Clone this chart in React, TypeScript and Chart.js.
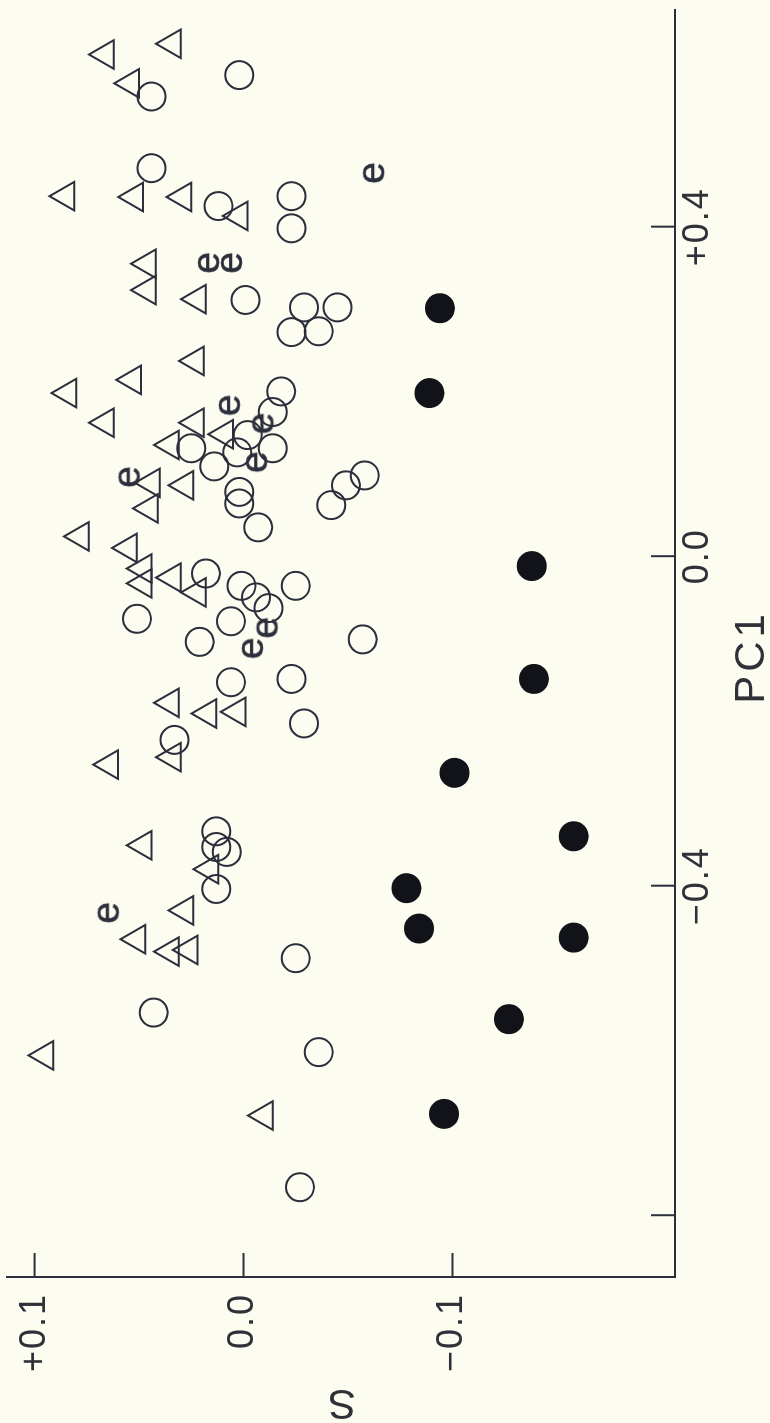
import React, { useEffect, useRef } from "react";
import { Chart, registerables } from "chart.js";

Chart.register(...registerables);

// ---- axis ticks / titles ----
const X_TICKS = [-0.8, -0.4, 0, 0.4];
const X_TICK_LABELS = ["", "\u22120.4", "0.0", "+0.4"];
const Y_TICKS = [-0.1, 0, 0.1];
const Y_TICK_LABELS = ["\u22120.1", "0.0", "+0.1"];
const X_TITLE = "PC1";
const Y_TITLE = "S";
const X_RANGE = [-0.875, 0.663];
const Y_RANGE = [-0.2065, 0.1132];

// ---- triangles (PC1, S) ----
const TRI_PC1 = [0.609, 0.622, 0.574, 0.437, 0.436, 0.436, 0.413, 0.355, 0.323, 0.312, 0.237, 0.214, 0.198, 0.162, 0.162, 0.148, 0.135, 0.089, 0.086, 0.058, 0.024, 0.010, -0.015, -0.033, -0.026, -0.044, -0.178, -0.191, -0.189, -0.244, -0.253, -0.351, -0.380, -0.430, -0.465, -0.480, -0.478, -0.606, -0.679];
const TRI_S = [0.066, 0.034, 0.054, 0.085, 0.052, 0.029, 0.002, 0.046, 0.046, 0.022, 0.023, 0.053, 0.084, 0.066, 0.023, 0.009, 0.035, 0.044, 0.028, 0.045, 0.078, 0.055, 0.048, 0.048, 0.034, 0.022, 0.035, 0.017, 0.003, 0.034, 0.064, 0.048, 0.016, 0.028, 0.051, 0.035, 0.026, 0.095, -0.010];

// ---- open circles ----
const OPEN_PC1 = [0.584, 0.558, 0.471, 0.425, 0.437, 0.398, 0.311, 0.302, 0.302, 0.272, 0.273, 0.200, 0.175, 0.147, 0.131, 0.109, 0.126, 0.131, 0.078, 0.064, 0.035, 0.062, 0.086, 0.098, -0.021, -0.036, -0.050, -0.063, -0.036, -0.076, -0.079, -0.104, -0.101, -0.153, -0.149, -0.203, -0.223, -0.334, -0.353, -0.359, -0.404, -0.488, -0.554, -0.602, -0.766];
const OPEN_S = [0.002, 0.044, 0.044, 0.012, -0.023, -0.023, -0.001, -0.029, -0.045, -0.023, -0.036, -0.018, -0.014, -0.002, 0.025, 0.014, 0.003, -0.014, 0.002, 0.002, -0.007, -0.042, -0.049, -0.058, 0.018, 0.001, -0.006, -0.012, -0.025, 0.051, 0.006, 0.021, -0.057, 0.006, -0.023, -0.029, 0.033, 0.013, 0.013, 0.008, 0.013, -0.025, 0.043, -0.036, -0.027];

// ---- filled circles ----
const FILLED_PC1 = [0.301, 0.198, -0.012, -0.149, -0.263, -0.340, -0.403, -0.452, -0.463, -0.562, -0.677];
const FILLED_S = [-0.094, -0.089, -0.138, -0.139, -0.101, -0.158, -0.078, -0.084, -0.158, -0.127, -0.096];

// ---- "e" points ----
const E_PC1 = [0.465, 0.356, 0.356, 0.183, 0.161, 0.114, 0.096, -0.087, -0.112, -0.433];
const E_S = [-0.062, 0.017, 0.006, 0.007, -0.009, -0.006, 0.055, -0.011, -0.004, 0.065];

const INK = "#2b2e3b";
const TEXT = "#2f3038";
const BG = "#fdfcf0";
const FONT = "'Liberation Sans', Arial, sans-serif";

const W = 1423;
const H = 770;

const pts = (xs: number[], ys: number[]) => xs.map((x, i) => ({ x, y: ys[i] }));

const innerTicks = {
  id: "innerTicks",
  beforeDraw(chart: any) {
    (chart.ctx as any).letterSpacing = "2px";
  },
  afterDraw(chart: any) {
    const { ctx, chartArea: a, scales } = chart;
    const x = scales.x;
    const y = scales.y;
    ctx.save();
    ctx.strokeStyle = INK;
    ctx.lineWidth = 2;
    x.ticks.forEach((t: any) => {
      const p = x.getPixelForValue(t.value);
      ctx.beginPath();
      ctx.moveTo(p, a.bottom);
      ctx.lineTo(p, a.bottom - 24);
      ctx.stroke();
    });
    y.ticks.forEach((t: any) => {
      const p = y.getPixelForValue(t.value);
      ctx.beginPath();
      ctx.moveTo(a.left, p);
      ctx.lineTo(a.left + 24, p);
      ctx.stroke();
    });
    // x-axis title
    (ctx as any).letterSpacing = "4px";
    ctx.fillStyle = TEXT;
    ctx.font = `42px ${FONT}`;
    ctx.textAlign = "center";
    ctx.textBaseline = "middle";
    ctx.fillText(X_TITLE, a.left + 620, a.bottom + 77);
    ctx.restore();
    (ctx as any).letterSpacing = "0px";
  },
};

function makeE(): HTMLCanvasElement {
  const c = document.createElement("canvas");
  c.width = 44;
  c.height = 44;
  const g = c.getContext("2d")!;
  g.fillStyle = INK;
  g.strokeStyle = INK;
  g.lineWidth = 0.6;
  g.font = `39px ${FONT}`;
  g.textAlign = "center";
  g.textBaseline = "alphabetic";
  g.fillText("e", 22, 32.5);
  g.strokeText("e", 22, 32.5);
  return c;
}

export default function App() {
  const ref = useRef<HTMLCanvasElement | null>(null);

  useEffect(() => {
    if (!ref.current) return;
    const eImg = makeE();
    const chart = new Chart(ref.current, {
      type: "scatter",
      data: {
        datasets: [
          {
            label: "triangles",
            data: pts(TRI_PC1, TRI_S),
            pointStyle: "triangle",
            pointRadius: 16.5,
            pointHoverRadius: 16.5,
            pointBorderWidth: 2,
            pointBorderColor: INK,
            pointBackgroundColor: "rgba(0,0,0,0)",
            showLine: false,
          },
          {
            label: "open",
            data: pts(OPEN_PC1, OPEN_S),
            pointStyle: "circle",
            pointRadius: 14,
            pointHoverRadius: 14,
            pointBorderWidth: 2,
            pointBorderColor: INK,
            pointBackgroundColor: "rgba(0,0,0,0)",
            showLine: false,
          },
          {
            label: "filled",
            data: pts(FILLED_PC1, FILLED_S),
            pointStyle: "circle",
            pointRadius: 15,
            pointHoverRadius: 15,
            pointBorderWidth: 0,
            pointBorderColor: "#111318",
            pointBackgroundColor: "#111318",
            showLine: false,
          },
          {
            label: "e",
            data: pts(E_PC1, E_S),
            pointStyle: eImg as any,
            pointRadius: 12,
            showLine: false,
          },
        ],
      },
      options: {
        responsive: false,
        maintainAspectRatio: false,
        animation: false,
        devicePixelRatio: 1,
        layout: { autoPadding: false, padding: { top: 7, right: 10, left: 0, bottom: 0 } },
        plugins: { legend: { display: false }, tooltip: { enabled: false } },
        events: [],
        scales: {
          x: {
            type: "linear",
            min: X_RANGE[0],
            max: X_RANGE[1],
            grid: { display: false, drawTicks: false },
            border: { display: true, color: INK, width: 2 },
            afterBuildTicks: (s: any) => {
              s.ticks = X_TICKS.map((v) => ({ value: v }));
            },
            afterFit: (s: any) => {
              s.height = 95;
              s.paddingLeft = 0;
              s.paddingRight = 0;
            },
            ticks: {
              autoSkip: false,
              maxRotation: 0,
              minRotation: 0,
              padding: 1,
              color: TEXT,
              font: { family: FONT, size: 36 },
              callback: (_v: any, i: number) => X_TICK_LABELS[i],
            },
            title: { display: false },
          },
          y: {
            type: "linear",
            min: Y_RANGE[0],
            max: Y_RANGE[1],
            grid: { display: false, drawTicks: false },
            border: { display: true, color: INK, width: 2 },
            afterBuildTicks: (s: any) => {
              s.ticks = Y_TICKS.map((v) => ({ value: v }));
            },
            afterFit: (s: any) => {
              s.width = 146;
              s.paddingTop = 0;
              s.paddingBottom = 0;
            },
            ticks: {
              autoSkip: false,
              padding: 16,
              color: TEXT,
              font: { family: FONT, size: 36 },
              callback: (_v: any, i: number) => Y_TICK_LABELS[i],
            },
            title: {
              display: true,
              text: Y_TITLE,
              color: TEXT,
              font: { family: FONT, size: 42, lineHeight: 1 },
              padding: 0,
            },
          },
        },
      },
      plugins: [innerTicks],
    } as any);
    return () => chart.destroy();
  }, []);

  return (
    <div
      style={{
        position: "fixed",
        left: 0,
        top: 0,
        width: H,
        height: W,
        background: BG,
        overflow: "hidden",
      }}
    >
      <canvas
        ref={ref}
        width={W}
        height={H}
        style={{
          position: "absolute",
          left: 0,
          top: 0,
          width: W,
          height: H,
          transformOrigin: "0 0",
          transform: `translate(0px, ${W}px) rotate(-90deg)`,
        }}
      />
    </div>
  );
}
